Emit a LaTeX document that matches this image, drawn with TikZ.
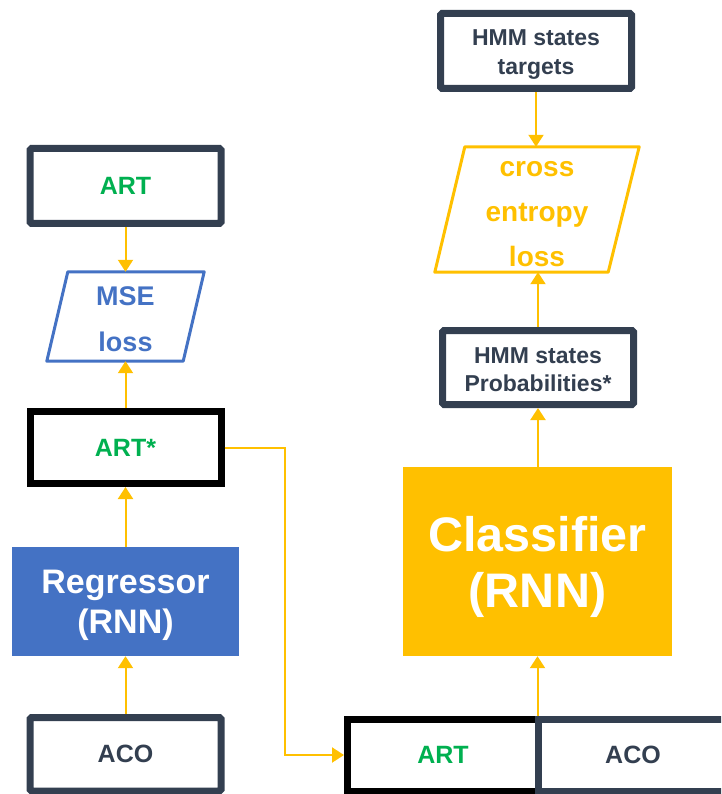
\documentclass[tikz,border=0pt]{standalone}
\usepackage{fontspec}
\setmainfont{Liberation Sans}
\usetikzlibrary{arrows.meta,calc}
\definecolor{navy}{HTML}{333F50}
\definecolor{gold}{HTML}{FFC000}
\definecolor{steel}{HTML}{4472C4}
\definecolor{leaf}{HTML}{00B050}
\newcommand{\fs}[2]{\fontsize{#1}{#2}\selectfont}
\begin{document}
\begin{tikzpicture}[x=1pt,y=-1pt,
  every node/.style={inner sep=0pt},
  sz/.style 2 args={font=\bfseries\fs{#1}{#2}},
  label text/.style={align=center},
  navybox/.style={draw=navy, line width=7pt, rounded corners=1.5pt, fill=white,
    minimum width=191pt, minimum height=74pt, align=center},
  blackbox/.style={draw=black, line width=7pt, fill=white,
    minimum width=191pt, minimum height=72pt, align=center},
  arr/.style={draw=gold, line width=2pt, -{Triangle[width=15pt,length=12pt]}}]
\useasboundingbox (0,0) rectangle (721,794);
\begin{scope}
\clip (0,0) rectangle (721,794);

% left branch: regression
\node[navybox, minimum height=75pt, text=leaf, sz={25}{30}] (artT) at (125.5,186) {ART};
\node[minimum width=157pt, minimum height=89pt] (mse) at (125.5,316.5) {};
\draw[steel, line width=3pt, line join=round]
  ($(mse.north west)+(21,0)$) -- (mse.north east) -- ($(mse.south east)+(-21,0)$)
  -- (mse.south west) -- cycle;
\node[label text, text=steel, sz={27}{46}] (mseTxt) at ($(mse)+(0,3)$) {MSE\\loss};
\node[blackbox, text=leaf, sz={25}{30}] (artS) at (125.5,447.5) {ART*};
\node[fill=steel, minimum width=227pt, minimum height=109pt] (reg) at (125.5,601.5) {};
\node[label text, text=white, sz={34}{40}] (regTxt) at ($(reg)+(0,3.5)$) {Regressor\\(RNN)};
\node[navybox, minimum height=73.5pt, text=navy, sz={25}{30}] (acoL) at (125.5,754.25) {ACO};

% right branch: classification
\node[navybox, minimum height=75pt] (tgt) at (536,51) {};
\node[label text, text=navy, sz={23}{29}] (tgtTxt) at ($(tgt)+(0,3.5)$) {HMM states\\targets};
\node[minimum width=204pt, minimum height=125pt] (ce) at (537,209.5) {};
\draw[gold, line width=3pt, line join=round]
  ($(ce.north west)+(30,0)$) -- (ce.north east) -- ($(ce.south east)+(-31,0)$)
  -- (ce.south west) -- cycle;
\node[label text, text=gold, sz={28}{45}] (ceTxt) at ($(ce)+(0,5)$) {cross\\entropy\\loss};
\node[navybox, minimum height=74pt] (prob) at (538,367.5) {};
\node[label text, text=navy, sz={23}{28}] (probTxt) at ($(prob)+(0,2)$) {HMM states\\Probabilities*};
\node[fill=gold, minimum width=269pt, minimum height=189pt] (cls) at (537.5,561.5) {};
\node[label text, text=white, sz={48.5}{56}] (clsTxt) at ($(cls)+(0,5)$) {Classifier\\(RNN)};

% joint input
\node[blackbox, text=leaf, sz={25}{30}] (artB) at (443,755) {ART};
\node[navybox, rounded corners=0pt, minimum width=189pt, minimum height=72pt, text=navy, sz={25}{30}]
  (acoB) at (633,755) {ACO};

% connectors
\draw[arr] (artT.south) -- (mse.north);
\draw[arr] (artS.north) -- (mse.south);
\draw[arr] (reg.north) -- (artS.south);
\draw[arr] (acoL.north) -- (reg.south);
\draw[arr] (artS.east) -- ++(60,0) |- (artB.west);
\draw[arr] (artB.north -| cls.south) -- (cls.south);
\draw[arr] (cls.north -| prob.south) -- (prob.south);
\draw[arr] (prob.north) -- (prob.north |- ce.south);
\draw[arr] (tgt.south) -- (tgt.south |- ce.north);
\end{scope}
\end{tikzpicture}
\end{document}
